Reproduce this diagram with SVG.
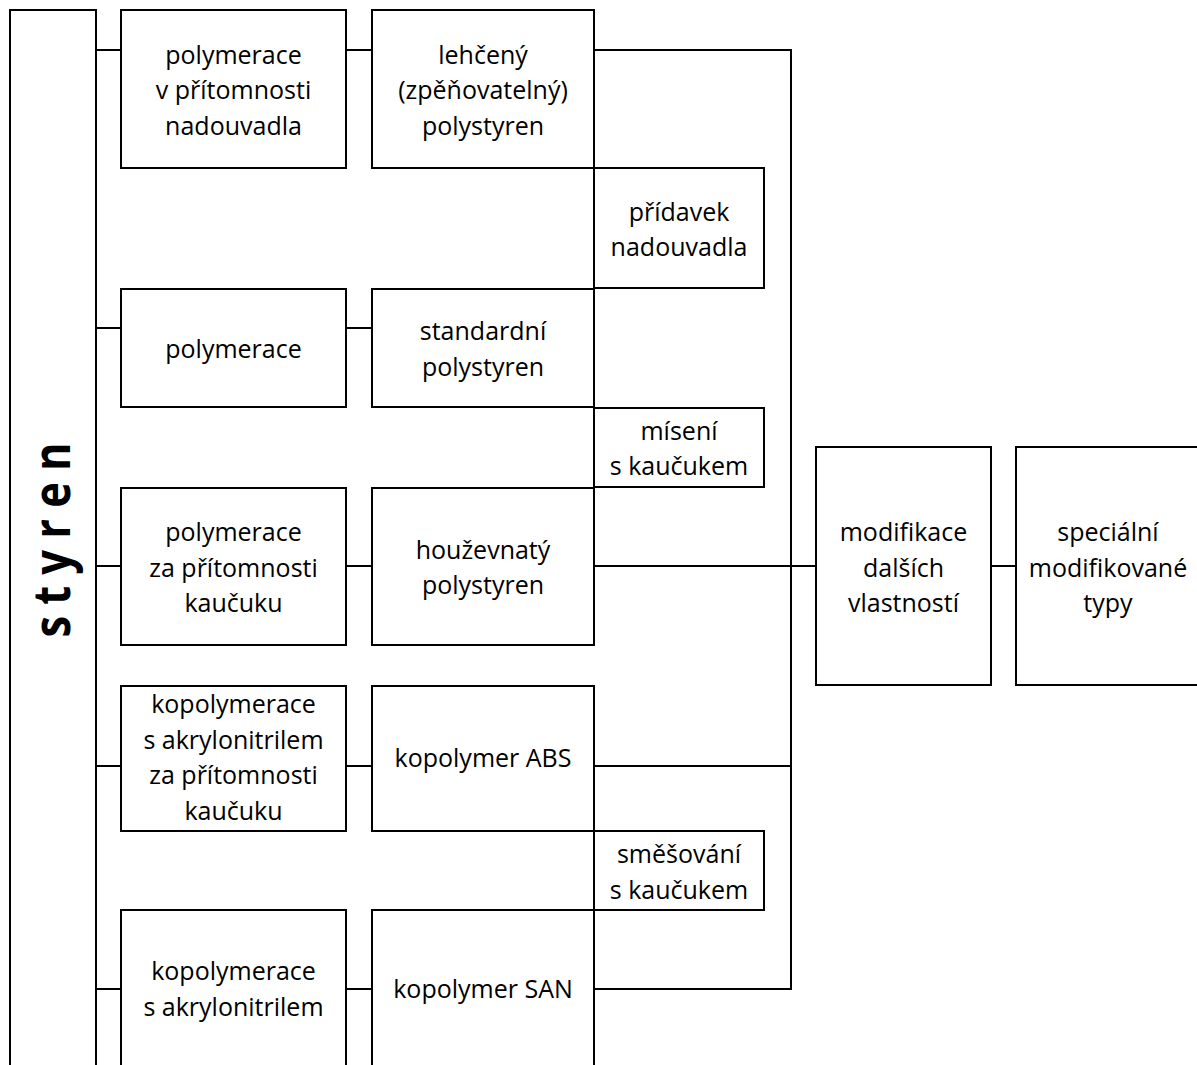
<svg xmlns="http://www.w3.org/2000/svg" width="1197" height="1065" viewBox="0 0 1197 1065">
<style>
.box{fill:#fff;stroke:#000;stroke-width:2}
.conn{fill:none;stroke:#000;stroke-width:2}
.t{font-family:"Open Sans","Liberation Sans",sans-serif;font-size:25px;fill:#000;text-anchor:middle}
.big{font-family:"Open Sans","Liberation Sans",sans-serif;font-size:52px;font-weight:bold;fill:#000;text-anchor:middle}
</style>
<rect width="1197" height="1065" fill="#fff"/>
<g id="connectors">
<path class="conn" d="M96 50H121M96 328H121M96 566H121M96 766H121M96 989H121"/>
<path class="conn" d="M346 50H372M346 328H372M346 566H372M346 766H372M346 989H372"/>
<path class="conn" d="M594 50H791V989H594M594 766H791M594 566H816M991 566H1016"/>
</g>
<g id="styren">
<rect class="box" x="10" y="10" width="86" height="1080"/>
<text class="big" transform="translate(70,540) rotate(-90)" textLength="195" lengthAdjust="spacingAndGlyphs">s t y r e n</text>
</g>
<g id="n1">
<rect class="box" x="121" y="10" width="225" height="158"/>
<text class="t" x="233.5" y="63.5">polymerace</text>
<text class="t" x="233.5" y="99">v přítomnosti</text>
<text class="t" x="233.5" y="134.5">nadouvadla</text>
</g>
<g id="n2">
<rect class="box" x="372" y="10" width="222" height="158"/>
<text class="t" x="483" y="63.5">lehčený</text>
<text class="t" x="483" y="99">(zpěňovatelný)</text>
<text class="t" x="483" y="134.5">polystyren</text>
</g>
<g id="n3">
<rect class="box" x="594" y="168" width="170" height="120"/>
<text class="t" x="679" y="220.5">přídavek</text>
<text class="t" x="679" y="256">nadouvadla</text>
</g>
<g id="n4">
<rect class="box" x="121" y="289" width="225" height="118"/>
<text class="t" x="233.5" y="358">polymerace</text>
</g>
<g id="n5">
<rect class="box" x="372" y="289" width="222" height="118"/>
<text class="t" x="483" y="340">standardní</text>
<text class="t" x="483" y="375.5">polystyren</text>
</g>
<g id="n6">
<rect class="box" x="594" y="408" width="170" height="79"/>
<text class="t" x="679" y="439.5">mísení</text>
<text class="t" x="679" y="475">s kaučukem</text>
</g>
<g id="n7">
<rect class="box" x="121" y="488" width="225" height="157"/>
<text class="t" x="233.5" y="541">polymerace</text>
<text class="t" x="233.5" y="576.5">za přítomnosti</text>
<text class="t" x="233.5" y="612">kaučuku</text>
</g>
<g id="n8">
<rect class="box" x="372" y="488" width="222" height="157"/>
<text class="t" x="483" y="558.5">houževnatý</text>
<text class="t" x="483" y="594">polystyren</text>
</g>
<g id="n9">
<rect class="box" x="816" y="447" width="175" height="238"/>
<text class="t" x="903.5" y="541">modifikace</text>
<text class="t" x="903.5" y="576.5">dalších</text>
<text class="t" x="903.5" y="612">vlastností</text>
</g>
<g id="n10">
<rect class="box" x="1016" y="447" width="200" height="238"/>
<text class="t" x="1108" y="541">speciální</text>
<text class="t" x="1108" y="576.5">modifikované</text>
<text class="t" x="1108" y="612">typy</text>
</g>
<g id="n11">
<rect class="box" x="121" y="686" width="225" height="145"/>
<text class="t" x="233.5" y="713">kopolymerace</text>
<text class="t" x="233.5" y="748.5">s akrylonitrilem</text>
<text class="t" x="233.5" y="784">za přítomnosti</text>
<text class="t" x="233.5" y="819.5">kaučuku</text>
</g>
<g id="n12">
<rect class="box" x="372" y="686" width="222" height="145"/>
<text class="t" x="483" y="767">kopolymer ABS</text>
</g>
<g id="n13">
<rect class="box" x="594" y="831" width="170" height="79"/>
<text class="t" x="679" y="863">směšování</text>
<text class="t" x="679" y="898.5">s kaučukem</text>
</g>
<g id="n14">
<rect class="box" x="121" y="910" width="225" height="180"/>
<text class="t" x="233.5" y="980">kopolymerace</text>
<text class="t" x="233.5" y="1015.5">s akrylonitrilem</text>
</g>
<g id="n15">
<rect class="box" x="372" y="910" width="222" height="180"/>
<text class="t" x="483" y="998">kopolymer SAN</text>
</g>
</svg>
